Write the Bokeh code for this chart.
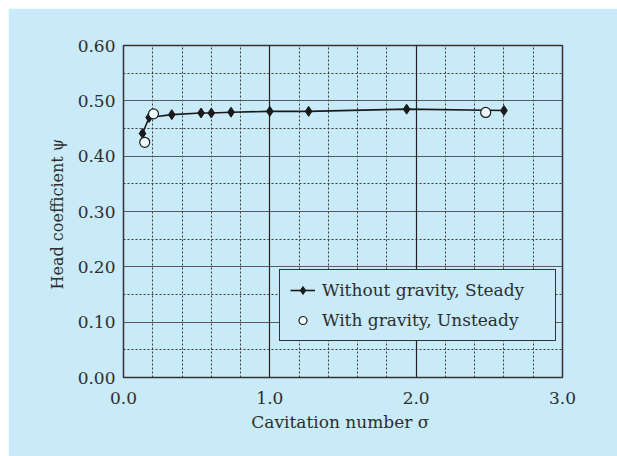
from bokeh.plotting import figure
from bokeh.models import Range1d, FixedTicker, NumeralTickFormatter, Grid, Legend, LegendItem, Spacer
from bokeh.layouts import column, row
from bokeh.embed import file_html
from bokeh.resources import INLINE

# data
steady_sigma = [0.13, 0.175, 0.33, 0.53, 0.60, 0.735, 1.0, 1.265, 1.935, 2.60]
steady_psi = [0.441, 0.470, 0.475, 0.478, 0.478, 0.4795, 0.481, 0.481, 0.485, 0.4825]
unsteady_sigma = [0.145, 0.205, 2.475]
unsteady_psi = [0.425, 0.4765, 0.479]
x_ticks = [0, 1, 2, 3]
y_ticks = [0.0, 0.1, 0.2, 0.3, 0.4, 0.5, 0.6]
x_minor = [0.2, 0.4, 0.6, 0.8, 1.2, 1.4, 1.6, 1.8, 2.2, 2.4, 2.6, 2.8]
x_major_grid = [1.0, 2.0]
y_minor = [0.05, 0.15, 0.25, 0.35, 0.45, 0.55]
y_major_grid = [0.1, 0.2, 0.3, 0.4, 0.5]

BG = "#c8eaf9"
TXT = "#2e2e2e"
FONT = "DejaVu Serif"

p = figure(width=609, height=448, output_backend="svg", toolbar_location=None,
           x_range=Range1d(0, 3), y_range=Range1d(0, 0.6),
           min_border_left=115, min_border_right=55, min_border_top=37, min_border_bottom=79)
p.background_fill_color = BG
p.border_fill_color = BG
p.outline_line_color = "#333333"
p.outline_line_width = 1.5
p.grid.visible = False

def add_grid(dim, ticks, color, dash, width):
    g = Grid(dimension=dim, ticker=FixedTicker(ticks=ticks), grid_line_color=color,
             grid_line_dash=dash, grid_line_width=width)
    p.add_layout(g)

add_grid(0, x_minor, "#3a3a3a", "2 2", 1)
add_grid(1, y_minor, "#3a3a3a", "2 2", 1)
add_grid(1, y_major_grid, "#5a5a5a", "solid", 1.2)
add_grid(0, x_major_grid, "#222222", "solid", 1.2)

for ax in (p.xaxis[0], p.yaxis[0]):
    ax.axis_line_color = None
    ax.major_tick_line_color = None
    ax.minor_tick_line_color = None
    ax.major_tick_out = 0
    ax.major_tick_in = 0
    ax.minor_tick_out = 0
    ax.major_label_text_font = FONT
    ax.major_label_text_font_size = "17px"
    ax.major_label_text_color = TXT
    ax.axis_label_text_font = FONT
    ax.axis_label_text_font_size = "17px"
    ax.axis_label_text_font_style = "normal"
    ax.axis_label_text_color = TXT

p.yaxis.axis_label_text_font_size = "16px"
p.xaxis.ticker = FixedTicker(ticks=x_ticks)
p.yaxis.ticker = FixedTicker(ticks=y_ticks)
p.xaxis.formatter = NumeralTickFormatter(format="0.0")
p.yaxis.formatter = NumeralTickFormatter(format="0.00")
p.xaxis.major_label_standoff = 14
p.yaxis.major_label_standoff = 8
p.xaxis.axis_label = "Cavitation number  σ"
p.yaxis.axis_label = "Head coefficient  ψ"
p.xaxis.axis_label_standoff = 5
p.yaxis.axis_label_standoff = 8

l1 = p.line(steady_sigma, steady_psi, line_color="#1a1a1a", line_width=1.6)
m1 = p.scatter(steady_sigma, steady_psi, marker="diamond", size=10, fill_color="#1a1a1a", line_color="#1a1a1a")
m2 = p.scatter(unsteady_sigma, unsteady_psi, marker="circle", size=10, fill_color="#eef8fd", line_color="#1a1a1a", line_width=1.2)

legend = Legend(items=[LegendItem(label="Without gravity, Steady", renderers=[l1, m1]),
                       LegendItem(label="With gravity, Unsteady", renderers=[m2])],
                location=(156, 36))
legend.label_text_font = FONT
legend.label_text_font_size = "17px"
legend.label_text_color = TXT
legend.background_fill_color = BG
legend.background_fill_alpha = 1
legend.border_line_color = "#333333"
legend.border_line_width = 1.5
legend.border_line_alpha = 1
legend.padding = 10
legend.spacing = 10
legend.margin = 0
legend.glyph_width = 25
legend.glyph_height = 20
legend.label_height = 20
legend.label_standoff = 7
legend.label_width = 223
p.add_layout(legend, "center")

layout = column(Spacer(height=8), row(Spacer(width=8), p))
open("out.html", "w").write(file_html(layout, INLINE))
